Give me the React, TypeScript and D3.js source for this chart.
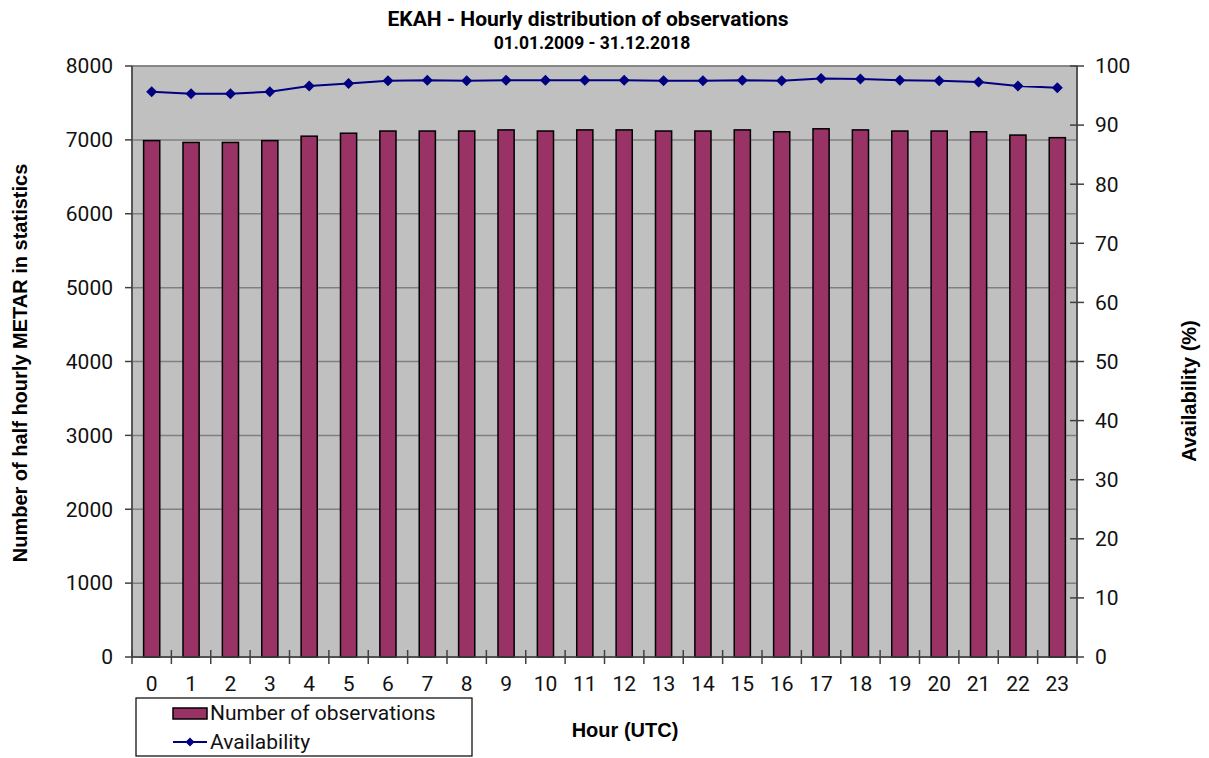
import React from "react";
import * as d3 from "d3";

// hours 0..23
const hours = d3.range(0, 24).map(String);

const observations = [
  6990, 6965, 6965, 6990, 7050, 7090, 7120, 7120, 7120, 7135, 7120, 7135,
  7135, 7120, 7120, 7135, 7110, 7150, 7135, 7120, 7120, 7110, 7065, 7030,
];

// Availability (%) per hour
const availability = [
  95.65, 95.3, 95.3, 95.65, 96.6, 97.05, 97.5, 97.6, 97.5, 97.6, 97.6, 97.6,
  97.6, 97.5, 97.5, 97.6, 97.5, 97.9, 97.8, 97.6, 97.5, 97.3, 96.6, 96.3,
];

const leftTicks = [0, 1000, 2000, 3000, 4000, 5000, 6000, 7000, 8000];
const rightTicks = [0, 10, 20, 30, 40, 50, 60, 70, 80, 90, 100];

const W = 1209;
const H = 758;
const margin = { top: 66, right: 132, bottom: 101, left: 132 };

const App: React.FC = () => {
  const x0 = margin.left;
  const x1 = W - margin.right;
  const y0 = H - margin.bottom;
  const y1 = margin.top;

  const xScale = d3.scaleBand<string>().domain(hours).range([x0, x1]).paddingInner(0).paddingOuter(0);
  const yLeft = d3.scaleLinear().domain([0, 8000]).range([y0, y1]);
  const yRight = d3.scaleLinear().domain([0, 100]).range([y0, y1]);

  const bw = xScale.bandwidth();
  const barW = bw * 0.41;

  const line = d3
    .line<number>()
    .x((_, i) => (xScale(hours[i]) as number) + bw / 2)
    .y((d) => yRight(d));

  const diamond = (cx: number, cy: number, r: number) =>
    `M${cx},${cy - r}L${cx + r},${cy}L${cx},${cy + r}L${cx - r},${cy}Z`;

  const tickFont = "Roboto, 'Open Sans', sans-serif";
  const titleFont = "'Liberation Sans', Arial, sans-serif";

  return (
    <svg width={W} height={H} style={{ position: "absolute", left: 0, top: 0, background: "#fff" }}>
      {/* titles */}
      <text x={588} y={26} textAnchor="middle" fontFamily={tickFont} fontWeight="bold" fontSize={21} fill="#000">
        EKAH - Hourly distribution of observations
      </text>
      <text x={592} y={49} textAnchor="middle" fontFamily={tickFont} fontWeight="bold" fontSize={17.5} fill="#000">
        01.01.2009 - 31.12.2018
      </text>

      {/* plot background */}
      <rect x={x0} y={y1} width={x1 - x0} height={y0 - y1} fill="#c0c0c0" />

      {/* gridlines */}
      {leftTicks.map((t) => (
        <line key={"g" + t} x1={x0} x2={x1} y1={yLeft(t)} y2={yLeft(t)} stroke="#808080" strokeWidth={1.5} />
      ))}
      <rect x={x0} y={y1} width={x1 - x0} height={y0 - y1} fill="none" stroke="#808080" strokeWidth={1.5} />

      {/* bars */}
      {observations.map((v, i) => {
        const cx = (xScale(hours[i]) as number) + bw / 2;
        return (
          <rect
            key={"b" + i}
            x={cx - barW / 2}
            y={yLeft(v)}
            width={barW}
            height={y0 - yLeft(v)}
            fill="#993366"
            stroke="#000"
            strokeWidth={1.5}
          />
        );
      })}

      {/* availability line */}
      <path d={line(availability) || ""} fill="none" stroke="#000080" strokeWidth={2} />
      {availability.map((v, i) => (
        <path
          key={"m" + i}
          d={diamond((xScale(hours[i]) as number) + bw / 2, yRight(v), 5.5)}
          fill="#000080"
        />
      ))}

      {/* left axis */}
      <line x1={x0} x2={x0} y1={y1} y2={y0} stroke="#404040" strokeWidth={1.5} />
      {leftTicks.map((t) => (
        <g key={"l" + t}>
          <line x1={x0 - 7} x2={x0} y1={yLeft(t)} y2={yLeft(t)} stroke="#404040" strokeWidth={1.5} />
          <text x={x0 - 19} y={yLeft(t)} dy="0.35em" textAnchor="end" fontFamily={tickFont} fontSize={21} fill="#111">
            {t}
          </text>
        </g>
      ))}

      {/* right axis */}
      <line x1={x1} x2={x1} y1={y1} y2={y0} stroke="#404040" strokeWidth={1.5} />
      {rightTicks.map((t) => (
        <g key={"r" + t}>
          <line x1={x1 - 7} x2={x1 + 7} y1={yRight(t)} y2={yRight(t)} stroke="#404040" strokeWidth={1.5} />
          <text x={x1 + 18} y={yRight(t)} dy="0.35em" textAnchor="start" fontFamily={tickFont} fontSize={21} fill="#111">
            {t}
          </text>
        </g>
      ))}

      {/* bottom axis */}
      <line x1={x0} x2={x1} y1={y0} y2={y0} stroke="#404040" strokeWidth={1.5} />
      {[...hours.map((h) => xScale(h) as number), x1].map((bx, i) => (
        <line key={"t" + i} x1={bx} x2={bx} y1={y0 - 7} y2={y0 + 7} stroke="#404040" strokeWidth={1.5} />
      ))}
      {hours.map((h) => (
        <text
          key={"x" + h}
          x={(xScale(h) as number) + bw / 2}
          y={691}
          textAnchor="middle"
          fontFamily={tickFont}
          fontSize={21}
          fill="#111"
        >
          {h}
        </text>
      ))}

      {/* axis titles */}
      <text
        transform={`translate(27,${363}) rotate(-90)`}
        textAnchor="middle"
        fontFamily={titleFont}
        fontWeight="bold"
        fontSize={20}
        fill="#000"
      >
        Number of half hourly METAR in statistics
      </text>
      <text
        transform={`translate(1196,${391}) rotate(-90)`}
        textAnchor="middle"
        fontFamily={titleFont}
        fontWeight="bold"
        fontSize={20}
        fill="#000"
      >
        Availability (%)
      </text>
      <text x={625} y={737} textAnchor="middle" fontFamily={titleFont} fontWeight="bold" fontSize={20} fill="#000">
        Hour (UTC)
      </text>

      {/* legend */}
      <rect x={136} y={698} width={336} height={58} fill="#fff" stroke="#000" strokeWidth={1.2} />
      <rect x={173} y={708} width={34} height={11} fill="#993366" stroke="#000" strokeWidth={1.5} />
      <text x={210} y={720} fontFamily={tickFont} fontSize={21} fill="#111">
        Number of observations
      </text>
      <line x1={173} x2={207} y1={742} y2={742} stroke="#000080" strokeWidth={2} />
      <path d={diamond(190, 742, 4.5)} fill="#000080" />
      <text x={210} y={749} fontFamily={tickFont} fontSize={21} fill="#111">
        Availability
      </text>
    </svg>
  );
};

export default App;
